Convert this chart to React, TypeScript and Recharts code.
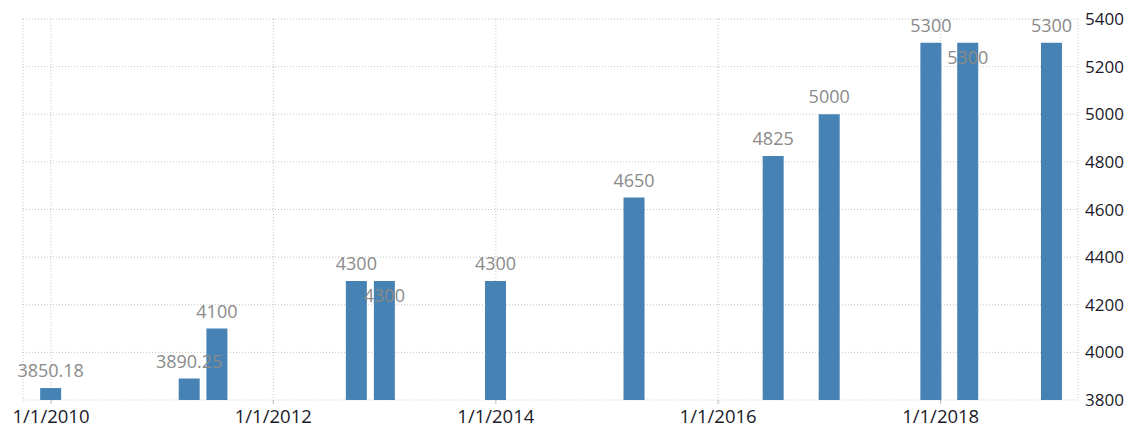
import { Bar, BarChart, CartesianGrid, LabelList, XAxis, YAxis } from 'recharts';

// dates of each rate change and the value set on that date
const dates = [
  '2010-01-01', '2011-04-01', '2011-07-01', '2012-10-01', '2013-01-01', '2014-01-01',
  '2015-04-01', '2016-07-01', '2017-01-01', '2017-12-01', '2018-04-01', '2019-01-01',
];
const values = [3850.18, 3890.25, 4100, 4300, 4300, 4300, 4650, 4825, 5000, 5300, 5300, 5300];
const xTickDates = ['2010-01-01', '2012-01-01', '2014-01-01', '2016-01-01', '2018-01-01'];
const yTicks = [3800, 4000, 4200, 4400, 4600, 4800, 5000, 5200, 5400];

const DAY = 24 * 3600 * 1000;
const toTime = (s: string) => new Date(s + 'T00:00:00Z').getTime();

const chartData = dates.map((d, i) => ({ time: toTime(d), value: values[i] }));
const xTicks = xTickDates.map(toTime);
const xDomain = [toTime('2010-01-01') - 92 * DAY, toTime('2018-01-01') + 451 * DAY];

const formatDate = (t: number) => {
  const d = new Date(t);
  return `${d.getUTCMonth() + 1}/${d.getUTCDate()}/${d.getUTCFullYear()}`;
};

const fmtValue = (v: number) => (Number.isInteger(v) ? String(v) : v.toFixed(2));

// label goes inside the bar when the previous bar is close and has the same value
const BarLabel = (props: any) => {
  const { x, y, width, value, index } = props;
  const prev = index > 0 ? chartData[index - 1] : null;
  const clash = prev && prev.value === value && chartData[index].time - prev.time < 180 * DAY;
  return (
    <text
      x={x + width / 2}
      y={clash ? y + 21 : y - 11}
      textAnchor="middle"
      fill="#8a8a8a"
      fontSize={18}
      fontFamily="Open Sans"
    >
      {fmtValue(value)}
    </text>
  );
};

export default function App() {
  return (
    <div style={{ position: 'absolute', left: 0, top: 0 }}>
      <BarChart
        width={1129}
        height={427}
        data={chartData}
        margin={{ top: 19, right: 0, left: 23, bottom: 0 }}
      >
        <CartesianGrid stroke="#c4c4c4" strokeDasharray="1 2" />
        <XAxis
          dataKey="time"
          type="number"
          scale="time"
          domain={xDomain}
          ticks={xTicks}
          tickFormatter={formatDate}
          allowDataOverflow
          axisLine={false}
          tickLine={{ stroke: '#bbb' }}
          tickSize={4}
          tickMargin={6}
          height={27}
          tick={{ fontSize: 18.5, fill: '#1a1a2a', fontFamily: 'Open Sans' }}
        />
        <YAxis
          orientation="right"
          domain={[3800, 5400]}
          ticks={yTicks}
          allowDataOverflow
          axisLine={false}
          tickLine={false}
          tickSize={0}
          tickMargin={7}
          width={51}
          tick={{ fontSize: 17, fill: '#1a1a2a', fontFamily: 'Open Sans', textAnchor: 'start' }}
        />
        <Bar dataKey="value" fill="#4682b4" barSize={21} isAnimationActive={false}>
          <LabelList dataKey="value" content={BarLabel} />
        </Bar>
      </BarChart>
    </div>
  );
}
